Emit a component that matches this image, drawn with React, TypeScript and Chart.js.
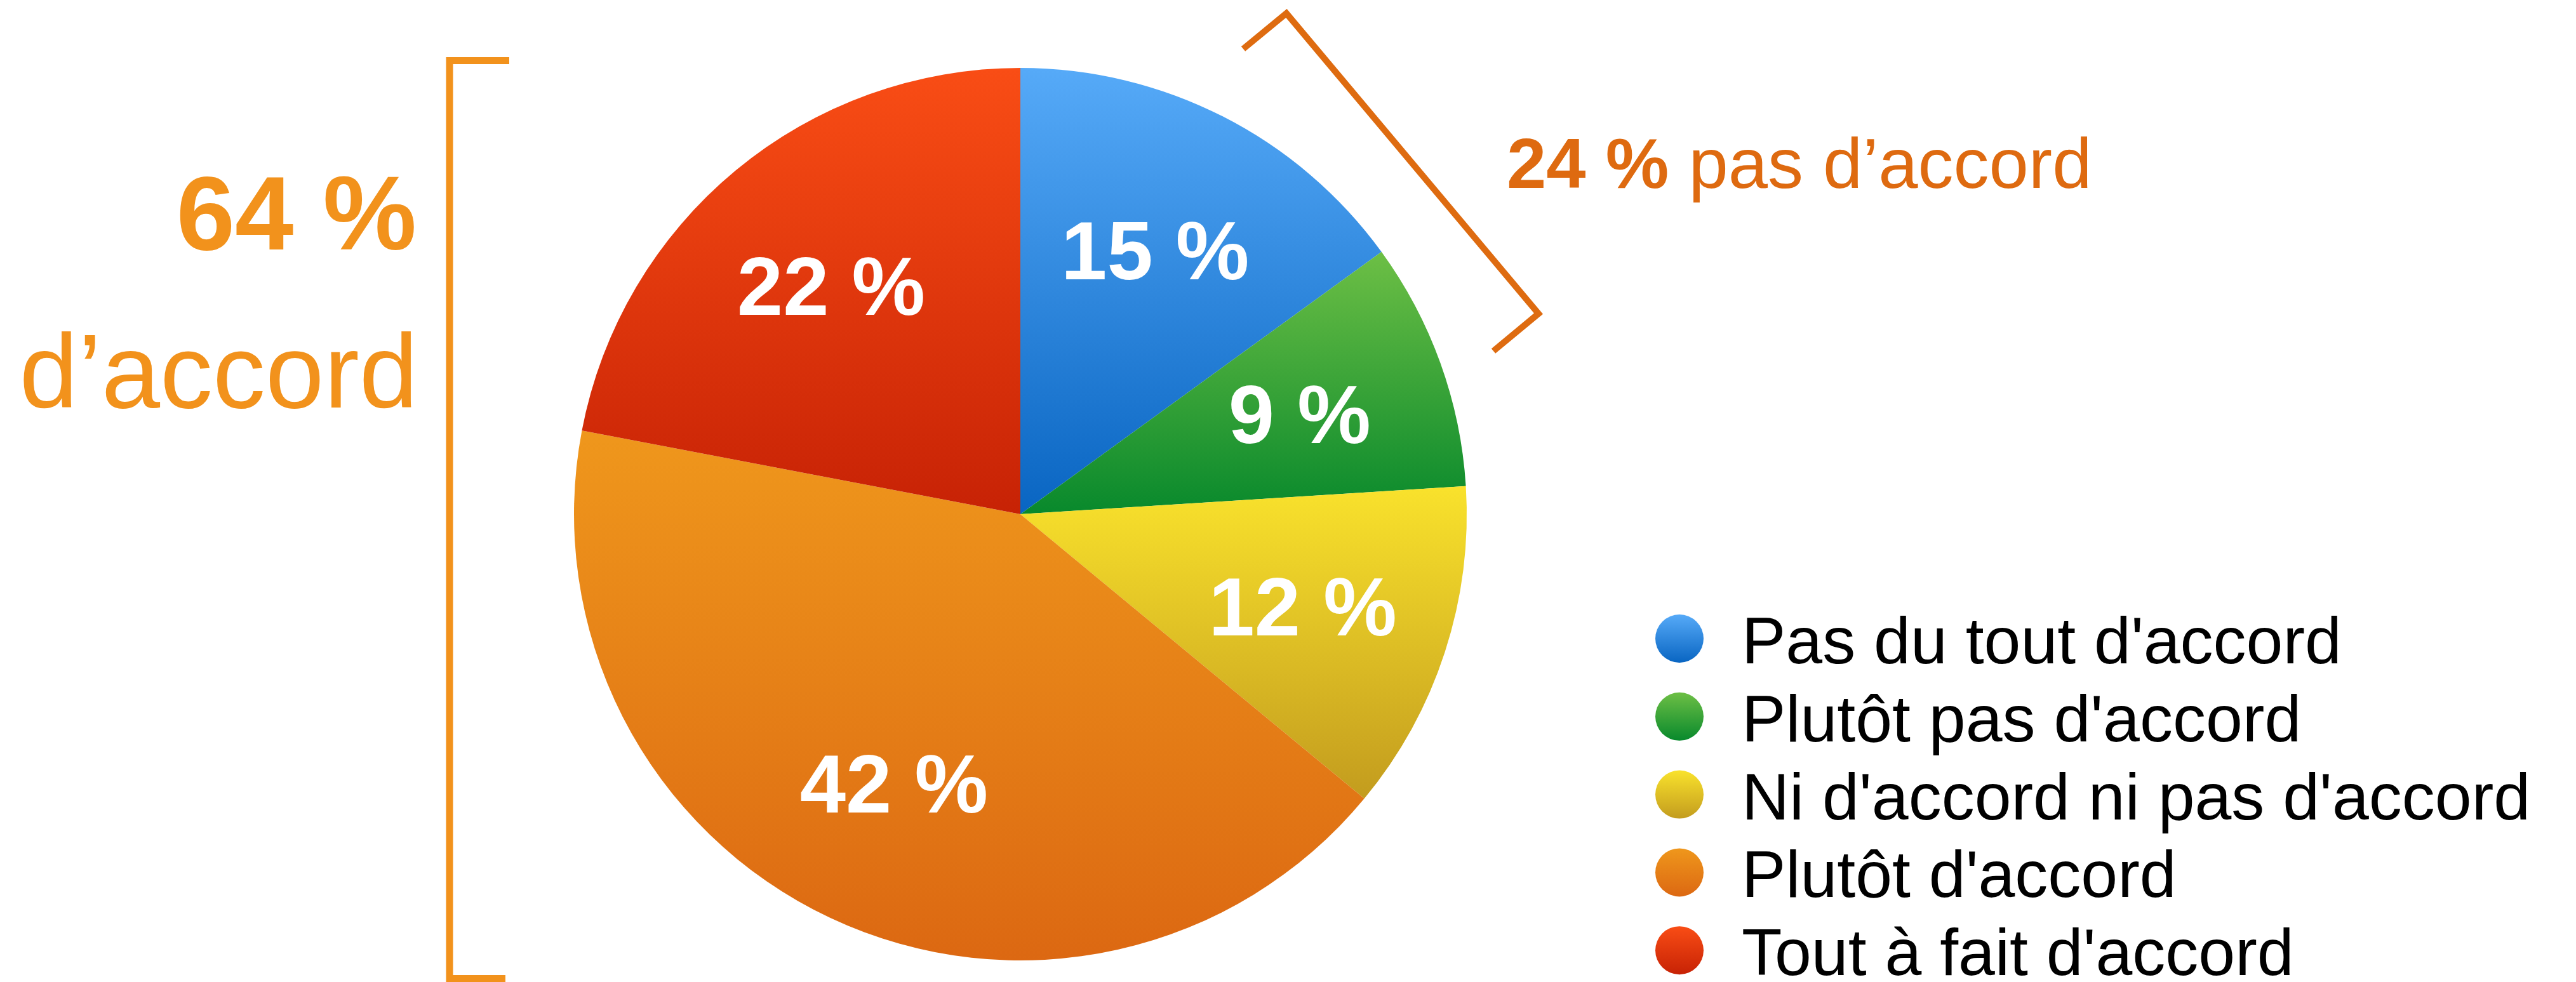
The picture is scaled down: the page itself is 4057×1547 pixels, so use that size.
import React, { useEffect, useRef } from "react";
import { Chart, registerables } from "chart.js";

Chart.register(...registerables);

// ---- Data ----
const categories = [
  "Pas du tout d'accord",
  "Plutôt pas d'accord",
  "Ni d'accord ni pas d'accord",
  "Plutôt d'accord",
  "Tout à fait d'accord",
];
const values = [15, 9, 12, 42, 22];
const topColors = ["#56AAF8", "#6DBF45", "#F9E22C", "#EF971C", "#F94D15"];
const bottomColors = ["#0965C2", "#08892C", "#C39C1E", "#DC6812", "#C72205"];
const agreeIdx = [3, 4];
const disagreeIdx = [0, 1];
const agreeWord = "d’accord";
const disagreeWord = "pas d’accord";

const FONT = '"Liberation Sans", Arial, Helvetica, sans-serif';

function sliceAngles(data: number[], i: number): [number, number] {
  const total = data.reduce((a, b) => a + b, 0);
  let s = 0;
  for (let k = 0; k < i; k++) s += data[k];
  return [(s / total) * Math.PI * 2, ((s + data[i]) / total) * Math.PI * 2];
}

function sliceGradient(ctx: any) {
  const i = ctx.dataIndex;
  if (i === undefined) return topColors[0];
  const chart = ctx.chart;
  const area = chart.chartArea;
  if (!area) return topColors[i];
  const cx = (area.left + area.right) / 2;
  const cy = (area.top + area.bottom) / 2;
  const r = Math.min(area.right - area.left, area.bottom - area.top) / 2;
  const data = chart.data.datasets[0].data as number[];
  const [a0, a1] = sliceAngles(data, i);
  const ys = [cy, cy - r * Math.cos(a0), cy - r * Math.cos(a1)];
  if (a0 <= 1e-9 || a1 >= Math.PI * 2 - 1e-9) ys.push(cy - r);
  if (a0 <= Math.PI && a1 >= Math.PI) ys.push(cy + r);
  const y0 = Math.min(...ys);
  const y1 = Math.max(...ys);
  const g = chart.ctx.createLinearGradient(0, y0, 0, y1);
  g.addColorStop(0, topColors[i]);
  g.addColorStop(1, bottomColors[i]);
  return g;
}

const sliceLabelsPlugin = {
  id: "sliceLabels",
  afterDatasetsDraw(chart: any) {
    const meta = chart.getDatasetMeta(0);
    const c = chart.ctx;
    const size = 130;
    c.save();
    c.font = `bold ${size}px ${FONT}`;
    c.fillStyle = "#FFFFFF";
    c.textAlign = "center";
    c.textBaseline = "alphabetic";
    meta.data.forEach((el: any, i: number) => {
      const p = el.getProps(["x", "y", "startAngle", "endAngle", "outerRadius"], true);
      const mid = (p.startAngle + p.endAngle) / 2;
      const rr = p.outerRadius * 0.665;
      const x = p.x + Math.cos(mid) * rr;
      const y = p.y + Math.sin(mid) * rr;
      c.fillText(`${values[i]} %`, x, y + size * 0.358);
    });
    c.restore();
  },
};

const legendPlugin = {
  id: "customLegend",
  afterDraw(chart: any) {
    const c = chart.ctx;
    const cxC = 2645;
    const y0 = 1006;
    const step = 122.8;
    const rad = 38;
    c.save();
    (chart.data.labels as string[]).forEach((lab, i) => {
      const cy = y0 + i * step;
      const g = c.createLinearGradient(0, cy - rad, 0, cy + rad);
      g.addColorStop(0, topColors[i]);
      g.addColorStop(1, bottomColors[i]);
      c.beginPath();
      c.arc(cxC, cy, rad, 0, Math.PI * 2);
      c.fillStyle = g;
      c.fill();
      c.font = `104px ${FONT}`;
      c.fillStyle = "#000000";
      c.textAlign = "left";
      c.textBaseline = "alphabetic";
      c.fillText(lab, 2743, cy + 39);
    });
    c.restore();
  },
};

const annotationsPlugin = {
  id: "brackets",
  afterDraw(chart: any) {
    const c = chart.ctx;
    const agree = agreeIdx.reduce((s, k) => s + values[k], 0);
    const disagree = disagreeIdx.reduce((s, k) => s + values[k], 0);
    c.save();
    // left bracket
    c.strokeStyle = "#F2921C";
    c.lineWidth = 11;
    c.lineJoin = "miter";
    c.lineCap = "butt";
    c.beginPath();
    c.moveTo(802, 95.5);
    c.lineTo(708, 95.5);
    c.lineTo(708, 1541.5);
    c.lineTo(796, 1541.5);
    c.stroke();
    c.fillStyle = "#F2921C";
    c.textAlign = "right";
    c.textBaseline = "alphabetic";
    c.font = `bold 166px ${FONT}`;
    c.fillText(`${agree} %`, 656, 393);
    c.font = `166px ${FONT}`;
    c.fillText(agreeWord, 658, 642);

    // right bracket
    c.strokeStyle = "#DE6B10";
    c.lineWidth = 10;
    c.beginPath();
    c.moveTo(1958, 77);
    c.lineTo(2026, 21);
    c.lineTo(2423, 494);
    c.lineTo(2352, 553);
    c.stroke();
    c.fillStyle = "#DE6A10";
    c.textAlign = "left";
    c.font = `bold 112px ${FONT}`;
    const boldTxt = `${disagree} % `;
    c.fillText(boldTxt, 2373, 296);
    const w = c.measureText(boldTxt).width;
    c.font = `112px ${FONT}`;
    c.fillText(disagreeWord, 2373 + w, 296);
    c.restore();
  },
};

export default function App() {
  const ref = useRef<HTMLCanvasElement | null>(null);
  useEffect(() => {
    if (!ref.current) return;
    const chart = new Chart(ref.current, {
      type: "pie",
      data: {
        labels: categories,
        datasets: [
          {
            data: values,
            backgroundColor: sliceGradient as any,
            borderWidth: 0,
            hoverOffset: 0,
          },
        ],
      },
      options: {
        responsive: true,
        maintainAspectRatio: false,
        animation: false,
        devicePixelRatio: 1,
        events: [],
        layout: { padding: { left: 904, top: 107, right: 4057 - 2310, bottom: 1547 - 1513 } },
        plugins: { legend: { display: false }, tooltip: { enabled: false } },
      },
      plugins: [sliceLabelsPlugin, legendPlugin, annotationsPlugin],
    });
    return () => chart.destroy();
  }, []);
  return (
    <div style={{ position: "absolute", left: 0, top: 0, width: 4057, height: 1547, background: "#fff" }}>
      <canvas ref={ref} />
    </div>
  );
}
